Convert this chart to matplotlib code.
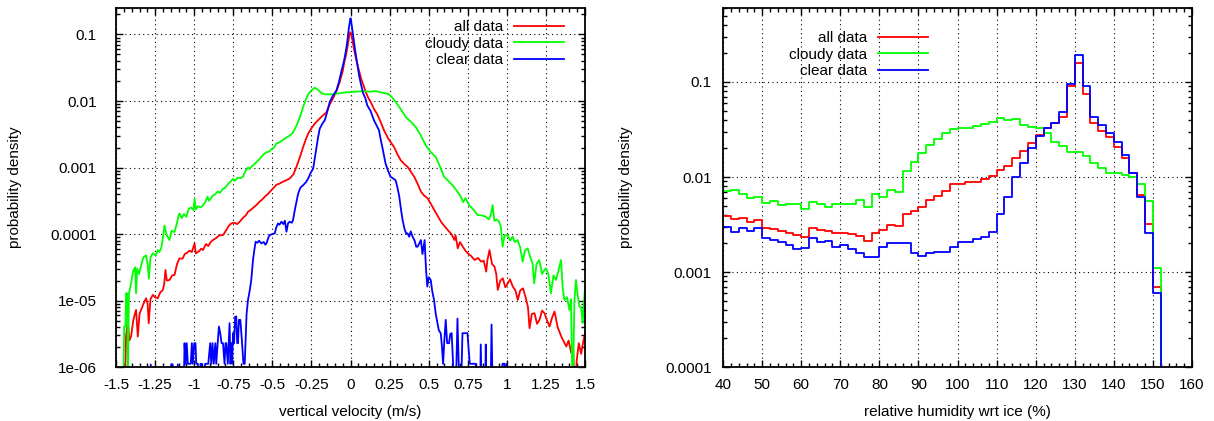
import numpy as np
import matplotlib
matplotlib.use("Agg")
import matplotlib.pyplot as plt
from matplotlib.ticker import MultipleLocator, LogLocator, NullFormatter

plt.rcParams['font.family'] = ['Liberation Sans', 'DejaVu Sans']

# ---- left panel: vertical velocity PDFs (log10 of density)
# -6.5 marks empty bins (below the axis)
all_v = [-1.445, -1.436, -1.425, -1.415, -1.404, -1.39, -1.38, -1.372, -1.361, -1.35, -1.34, -1.325, -1.308,
         -1.298, -1.291, -1.28, -1.265, -1.25, -1.233, -1.218, -1.201, -1.192, -1.184, -1.175, -1.158, -1.14,
         -1.126, -1.11, -1.094, -1.075, -1.06, -1.051, -1.03, -1.015, -0.998, -0.99, -0.97, -0.955, -0.944,
         -0.925, -0.91, -0.895, -0.88, -0.86, -0.84, -0.816, -0.8, -0.78, -0.763, -0.745, -0.725, -0.709,
         -0.69, -0.67, -0.656, -0.64, -0.62, -0.603, -0.585, -0.565, -0.549, -0.53, -0.506, -0.49, -0.475,
         -0.453, -0.43, -0.41, -0.389, -0.365, -0.346, -0.325, -0.303, -0.285, -0.271, -0.25, -0.229, -0.2,
         -0.175, -0.155, -0.133, -0.11, -0.09, -0.07, -0.05, -0.04, -0.03, -0.021, -0.011, -0.004, 0.0,
         0.004, 0.011, 0.021, 0.032, 0.043, 0.055, 0.07, 0.085, 0.1, 0.115, 0.128, 0.15, 0.171, 0.19, 0.214,
         0.24, 0.26, 0.278, 0.3, 0.321, 0.345, 0.365, 0.385, 0.408, 0.43, 0.451, 0.47, 0.494, 0.515, 0.536,
         0.558, 0.579, 0.6, 0.622, 0.645, 0.665, 0.672, 0.686, 0.7, 0.718, 0.735, 0.75, 0.772, 0.793, 0.815,
         0.836, 0.852, 0.868, 0.875, 0.889, 0.905, 0.921, 0.932, 0.942, 0.958, 0.974, 0.99, 1.006, 1.02,
         1.038, 1.055, 1.07, 1.085, 1.103, 1.12, 1.135, 1.145, 1.16, 1.177, 1.193, 1.209, 1.225, 1.241,
         1.257, 1.273, 1.29, 1.305, 1.325, 1.348, 1.365, 1.38, 1.395, 1.412, 1.425, 1.434, 1.447, 1.46,
         1.475, 1.49, 1.5]
all_logp = [-6.5, -5.54, -5.3, -5.6, -5.54, -5.3, -5.2, -5.14, -5.54, -5.2, -5.14, -5.05, -4.965,
            -5.05, -5.34, -4.98, -4.915, -4.95, -4.965, -4.88, -4.84, -4.75, -4.54, -4.7, -4.69, -4.62,
            -4.615, -4.45, -4.365, -4.37, -4.3, -4.29, -4.25, -4.27, -4.14, -4.29, -4.26, -4.22, -4.24,
            -4.15, -4.18, -4.12, -4.09, -4.06, -4.02, -4.015, -3.96, -3.88, -3.84, -3.83, -3.85, -3.815,
            -3.76, -3.72, -3.665, -3.64, -3.6, -3.565, -3.52, -3.48, -3.44, -3.4, -3.34, -3.3, -3.26,
            -3.24, -3.21, -3.19, -3.165, -3.1, -2.99, -2.85, -2.69, -2.57, -2.49, -2.41, -2.34, -2.27,
            -2.215, -2.17, -2.05, -1.95, -1.85, -1.72, -1.55, -1.42, -1.32, -1.21, -1.06, -0.98, -0.966,
            -0.99, -1.07, -1.21, -1.33, -1.44, -1.55, -1.68, -1.78, -1.88, -1.96, -2.01, -2.12, -2.2, -2.3,
            -2.44, -2.56, -2.63, -2.69, -2.8, -2.89, -2.95, -2.99, -3.06, -3.14, -3.25, -3.365, -3.42,
            -3.465, -3.55, -3.64, -3.73, -3.815, -3.88, -3.94, -4.0, -4.09, -4.02, -4.215, -4.12, -4.19,
            -4.25, -4.29, -4.33, -4.39, -4.36, -4.415, -4.4, -4.565, -4.4, -4.24, -4.45, -4.49, -4.6,
            -4.84, -4.7, -4.665, -4.8, -4.74, -4.68, -4.79, -4.85, -4.99, -4.85, -4.815, -4.95, -5.1,
            -5.415, -5.2, -5.19, -5.35, -5.29, -5.15, -5.19, -5.3, -5.39, -5.25, -5.165, -5.4, -5.54,
            -5.62, -5.69, -5.6, -5.79, -5.75, -6.5, -5.9, -5.64, -5.8, -5.6, -5.49]

cloudy_v = [-1.455, -1.448, -1.44, -1.436, -1.428, -1.424, -1.418, -1.404, -1.39, -1.378, -1.372, -1.365,
            -1.352, -1.34, -1.325, -1.308, -1.298, -1.29, -1.28, -1.265, -1.245, -1.232, -1.222, -1.21,
            -1.2, -1.19, -1.178, -1.168, -1.158, -1.145, -1.126, -1.112, -1.1, -1.094, -1.08, -1.065,
            -1.051, -1.035, -1.02, -1.005, -0.998, -0.99, -0.975, -0.96, -0.944, -0.93, -0.915, -0.905,
            -0.89, -0.88, -0.865, -0.85, -0.835, -0.816, -0.8, -0.785, -0.77, -0.752, -0.74, -0.72,
            -0.705, -0.688, -0.672, -0.656, -0.645, -0.63, -0.615, -0.603, -0.585, -0.57, -0.555, -0.538,
            -0.52, -0.505, -0.49, -0.475, -0.453, -0.43, -0.41, -0.389, -0.37, -0.346, -0.325, -0.303,
            -0.285, -0.271, -0.25, -0.229, -0.21, -0.186, -0.165, -0.15, -0.12, -0.09, -0.06, -0.03, 0.0,
            0.03, 0.064, 0.096, 0.13, 0.16, 0.182, 0.215, 0.246, 0.268, 0.289, 0.32, 0.353, 0.385, 0.417,
            0.45, 0.481, 0.51, 0.545, 0.575, 0.599, 0.625, 0.652, 0.68, 0.706, 0.72, 0.735, 0.759, 0.785,
            0.813, 0.84, 0.866, 0.885, 0.898, 0.909, 0.92, 0.935, 0.951, 0.962, 0.973, 0.985, 1.005,
            1.02, 1.037, 1.05, 1.069, 1.085, 1.101, 1.115, 1.133, 1.15, 1.165, 1.175, 1.19, 1.207,
            1.225, 1.238, 1.25, 1.265, 1.282, 1.298, 1.314, 1.33, 1.346, 1.357, 1.367, 1.385, 1.4,
            1.41, 1.421, 1.432, 1.442, 1.452, 1.464, 1.475, 1.485, 1.492, 1.5]
cloudy_logp = [-6.5, -5.39, -5.39, -4.89, -4.89, -6.2, -4.9, -4.74, -4.55, -4.5, -4.89, -4.52,
               -4.6, -4.47, -4.35, -4.32, -4.45, -4.67, -4.35, -4.29, -4.32, -4.24, -4.27, -4.2,
               -4.05, -3.87, -4.0, -4.05, -4.09, -3.95, -3.97, -3.85, -3.72, -3.69, -3.76, -3.7,
               -3.74, -3.62, -3.6, -3.64, -3.47, -3.63, -3.58, -3.6, -3.57, -3.52, -3.44, -3.5,
               -3.45, -3.42, -3.4, -3.36, -3.38, -3.32, -3.3, -3.25, -3.22, -3.17, -3.2, -3.15,
               -3.16, -3.14, -3.05, -3.0, -3.02, -2.98, -2.95, -2.92, -2.88, -2.84, -2.8, -2.77,
               -2.76, -2.72, -2.7, -2.64, -2.62, -2.58, -2.55, -2.52, -2.48, -2.37, -2.25, -2.09,
               -1.97, -1.9, -1.84, -1.8, -1.83, -1.88, -1.9, -1.9, -1.9, -1.89, -1.88, -1.87, -1.865,
               -1.86, -1.855, -1.855, -1.86, -1.85, -1.865, -1.88, -1.9, -1.95, -2.015, -2.12, -2.24,
               -2.31, -2.39, -2.52, -2.665, -2.76, -2.84, -3.0, -3.14, -3.2, -3.265, -3.35, -3.44,
               -3.52, -3.46, -3.565, -3.63, -3.715, -3.72, -3.74, -3.78, -3.7, -3.565, -3.8, -3.78,
               -3.815, -3.9, -4.19, -4.02, -4.015, -4.1, -4.04, -4.12, -4.09, -4.2, -4.415, -4.25,
               -4.215, -4.35, -4.45, -4.74, -4.45, -4.39, -4.6, -4.55, -4.515, -4.6, -4.89, -4.62,
               -4.69, -4.55, -4.39, -4.8, -4.99, -4.95, -5.14, -4.98, -6.5, -5.0, -4.69, -4.9,
               -5.09, -5.1, -5.34, -5.1, -4.79]

clear_v = [-1.285, -1.278, -1.272, -1.152, -1.147, -1.138, -1.132, -1.11, -1.105, -1.098, -1.068, -1.062,
           -1.055, -1.048, -1.041, -1.03, -1.022, -1.015, -1.009, -1.0, -0.992, -0.987, -0.977, -0.97,
           -0.96, -0.952, -0.944, -0.93, -0.91, -0.898, -0.891, -0.883, -0.875, -0.865, -0.859, -0.85,
           -0.842, -0.833, -0.825, -0.816, -0.806, -0.8, -0.795, -0.785, -0.774, -0.768, -0.763, -0.757,
           -0.752, -0.745, -0.738, -0.731, -0.725, -0.72, -0.714, -0.705, -0.695, -0.685, -0.677, -0.665,
           -0.656, -0.645, -0.635, -0.624, -0.613, -0.607, -0.595, -0.585, -0.571, -0.555, -0.545, -0.538,
           -0.525, -0.517, -0.5, -0.485, -0.475, -0.464, -0.455, -0.442, -0.43, -0.42, -0.41, -0.4,
           -0.389, -0.375, -0.368, -0.355, -0.335, -0.32, -0.303, -0.285, -0.271, -0.255, -0.239, -0.228,
           -0.218, -0.208, -0.197, -0.18, -0.165, -0.15, -0.133, -0.115, -0.09, -0.075, -0.058, -0.043,
           -0.03, -0.021, -0.011, -0.004, 0.0, 0.004, 0.011, 0.021, 0.032, 0.043, 0.055, 0.064, 0.08,
           0.095, 0.107, 0.128, 0.15, 0.165, 0.182, 0.193, 0.203, 0.214, 0.224, 0.24, 0.256, 0.27, 0.288,
           0.3, 0.312, 0.322, 0.333, 0.345, 0.355, 0.365, 0.375, 0.385, 0.397, 0.41, 0.42, 0.429, 0.44,
           0.45, 0.46, 0.474, 0.482, 0.491, 0.5, 0.513, 0.522, 0.534, 0.545, 0.556, 0.565, 0.577, 0.585,
           0.592, 0.6, 0.609, 0.618, 0.63, 0.638, 0.647, 0.655, 0.662, 0.672, 0.684, 0.692, 0.7, 0.705,
           0.716, 0.725, 0.74, 0.748, 0.756, 0.763, 0.775, 0.79, 0.801, 0.81, 0.828, 0.833, 0.84, 0.86,
           0.865, 0.87, 0.895, 0.902, 0.91, 0.965, 0.972, 0.985, 0.992, 0.998, 1.005, 1.5]
clear_logp = [-6.5, -5.96, -6.5, -6.5, -5.96, -5.96, -6.5, -6.5, -5.96, -6.5, -6.5, -5.64,
              -5.95, -5.64, -5.95, -5.95, -5.95, -5.64, -5.95, -5.64, -5.64, -5.95, -5.95, -6.5,
              -5.95, -5.95, -6.5, -5.95, -5.95, -5.64, -5.95, -5.64, -5.95, -5.64, -5.95, -5.64,
              -5.39, -5.5, -5.64, -5.64, -5.95, -5.64, -5.64, -5.95, -5.34, -5.95, -5.64, -5.95,
              -5.49, -5.64, -5.24, -5.24, -5.64, -5.64, -5.29, -5.29, -5.6, -5.95, -5.95, -5.2,
              -4.99, -4.85, -4.69, -4.39, -4.2, -4.115, -4.13, -4.1, -4.14, -4.12, -4.16, -4.14,
              -4.05, -4.015, -4.0, -3.99, -3.9, -3.84, -3.86, -3.815, -3.85, -3.8, -3.965, -3.84,
              -3.815, -3.83, -3.79, -3.62, -3.39, -3.3, -3.265, -3.22, -3.165, -3.08, -3.015, -2.85,
              -2.69, -2.55, -2.415, -2.34, -2.29, -2.17, -2.015, -1.93, -1.84, -1.72, -1.55, -1.41,
              -1.25, -1.11, -0.91, -0.8, -0.757, -0.8, -0.92, -1.1, -1.28, -1.44, -1.62, -1.72, -1.88,
              -1.96, -2.065, -2.15, -2.29, -2.36, -2.44, -2.58, -2.69, -2.82, -2.94, -3.05, -3.14, -3.16,
              -3.19, -3.3, -3.44, -3.62, -3.79, -3.92, -3.99, -3.99, -4.04, -3.96, -4.04, -4.1, -4.19,
              -4.19, -4.14, -4.09, -4.3, -4.09, -4.5, -4.79, -4.65, -4.69, -4.85, -4.99, -5.2, -5.34,
              -5.45, -5.49, -5.7, -5.95, -5.6, -5.29, -5.64, -5.64, -5.5, -5.49, -5.9, -6.5, -6.5,
              -5.27, -5.95, -6.5, -6.5, -5.49, -5.49, -5.49, -5.49, -5.75, -5.95, -5.95, -5.95, -5.95,
              -6.5, -6.5, -5.66, -6.5, -6.5, -5.66, -6.5, -6.5, -5.36, -6.5, -6.5, -5.95, -5.95, -6.5,
              -5.95, -6.5, -6.5]

vel_ticks = [-1.5, -1.25, -1, -0.75, -0.5, -0.25, 0, 0.25, 0.5, 0.75, 1, 1.25, 1.5]
vel_ticklabels = ["-1.5", "-1.25", "-1", "-0.75", "-0.5", "-0.25", "0", "0.25", "0.5", "0.75", "1", "1.25", "1.5"]
vel_yticks = [1e-6, 1e-5, 1e-4, 1e-3, 1e-2, 1e-1]
vel_yticklabels = ["1e-06", "1e-05", "0.0001", "0.001", "0.01", "0.1"]

# ---- right panel: RH wrt ice histograms, bins of 2 %, left edges from 38
rh_edges_start = 38
rh_bin = 2
all_rh_logp = [-2.365, -2.411, -2.439, -2.435, -2.47, -2.453, -2.54, -2.547, -2.565, -2.586, -2.61,
               -2.628, -2.533, -2.558, -2.565, -2.593, -2.586, -2.603, -2.621, -2.674, -2.593,
               -2.558, -2.505, -2.512, -2.393, -2.355, -2.312, -2.242, -2.2, -2.144, -2.074,
               -2.074, -2.049, -2.049, -2.025, -1.989, -1.926, -1.881, -1.803, -1.723, -1.639,
               -1.558, -1.488, -1.435, -1.365, -1.042, -0.803, -1.126, -1.428, -1.516, -1.576,
               -1.681, -1.803, -1.961, -2.189, -2.495, -3.161]
cloudy_rh_logp = [-2.05, -2.144, -2.137, -2.179, -2.224, -2.214, -2.27, -2.25, -2.295, -2.284, -2.284,
                  -2.34, -2.26, -2.284, -2.319, -2.284, -2.284, -2.284, -2.245, -2.319, -2.179,
                  -2.214, -2.137, -2.154, -1.934, -1.839, -1.751, -1.663, -1.604, -1.54, -1.49,
                  -1.488, -1.488, -1.463, -1.442, -1.418, -1.383, -1.4, -1.39, -1.453, -1.47,
                  -1.488, -1.54, -1.635, -1.67, -1.74, -1.74, -1.779, -1.856, -1.909, -1.955,
                  -1.961, -1.979, -1.997, -2.074, -2.249, -2.961]
clear_rh_logp = [-2.52, -2.523, -2.583, -2.54, -2.565, -2.54, -2.646, -2.663, -2.681, -2.716, -2.761,
                 -2.751, -2.646, -2.681, -2.67, -2.733, -2.72, -2.761, -2.797, -2.839, -2.839,
                 -2.733, -2.698, -2.698, -2.698, -2.804, -2.832, -2.804, -2.794, -2.794, -2.733,
                 -2.681, -2.681, -2.656, -2.628, -2.575, -2.393, -2.207, -1.997, -1.849, -1.698,
                 -1.568, -1.481, -1.428, -1.312, -1.021, -0.716, -1.042, -1.365, -1.453, -1.533,
                 -1.635, -1.768, -1.961, -2.214, -2.593, -3.224]
rh_ticks = [40, 50, 60, 70, 80, 90, 100, 110, 120, 130, 140, 150, 160]
rh_yticks = [1e-4, 1e-3, 1e-2, 1e-1]
rh_yticklabels = ["0.0001", "0.001", "0.01", "0.1"]

labels = ["all data", "cloudy data", "clear data"]
colors = ["#ff0000", "#00ff00", "#0000ff"]


def style_axes(ax, ypad):
    ax.set_yscale('log')
    ax.grid(True, which='major', linestyle=(0, (1, 3)), color='black', linewidth=0.8)
    ax.tick_params(which='both', direction='in', top=True, right=True, labelsize=11, width=1)
    ax.tick_params(which='major', length=5, pad=8)
    ax.tick_params(axis='y', which='major', pad=ypad)
    ax.tick_params(which='minor', length=3)
    ax.yaxis.set_minor_locator(LogLocator(base=10, subs=np.arange(2, 10)))
    ax.yaxis.set_minor_formatter(NullFormatter())
    for s in ax.spines.values():
        s.set_linewidth(1.3)
    ax.set_ylabel("probability density", fontsize=11)


fig = plt.figure(figsize=(12.14, 4.21), dpi=100)

ax1 = fig.add_axes([0.0956, 0.128, 0.3863, 0.853])
for v, lp, lab, col in zip([all_v, cloudy_v, clear_v], [all_logp, cloudy_logp, clear_logp], labels, colors):
    ax1.plot(v, 10 ** np.array(lp), color=col, lw=1.3, label=lab)
style_axes(ax1, 14)
ax1.set_xlim(-1.5, 1.5)
ax1.set_ylim(1e-6, 0.25)
ax1.set_xticks(vel_ticks)
ax1.set_xticklabels(vel_ticklabels)
ax1.set_yticks(vel_yticks)
ax1.set_yticklabels(vel_yticklabels)
ax1.xaxis.set_minor_locator(MultipleLocator(0.05))
ax1.set_xlabel("vertical velocity (m/s)", fontsize=11)
ax1.yaxis.set_label_coords(-0.2, 0.5)
ax1.xaxis.set_label_coords(0.5, -0.105)
ax1.legend(loc='upper right', bbox_to_anchor=(0.955, 0.967), frameon=False, markerfirst=False,
           fontsize=11, handlelength=3.3, handletextpad=0.7, labelspacing=0.18,
           borderpad=0, borderaxespad=0)

ax2 = fig.add_axes([0.5956, 0.128, 0.3863, 0.853])
for lp, lab, col in zip([all_rh_logp, cloudy_rh_logp, clear_rh_logp], labels, colors):
    n = len(lp)
    edges = rh_edges_start + rh_bin * np.arange(n + 1)
    vals = 10 ** np.array(lp)
    x = np.concatenate([edges, [edges[-1]]])
    y = np.concatenate([vals, [vals[-1]], [1e-6]])
    ax2.plot(x, y, drawstyle='steps-post', color=col, lw=1.3, label=lab)
style_axes(ax2, 8)
ax2.set_xlim(40, 160)
ax2.set_ylim(1e-4, 0.6)
ax2.set_xticks(rh_ticks)
ax2.set_yticks(rh_yticks)
ax2.set_yticklabels(rh_yticklabels)
ax2.xaxis.set_minor_locator(MultipleLocator(2))
ax2.set_xlabel("relative humidity wrt ice (%)", fontsize=11)
ax2.yaxis.set_label_coords(-0.193, 0.5)
ax2.xaxis.set_label_coords(0.5, -0.105)
ax2.legend(loc='upper right', bbox_to_anchor=(0.437, 0.936), frameon=False, markerfirst=False,
           fontsize=11, handlelength=3.3, handletextpad=0.7, labelspacing=0.18,
           borderpad=0, borderaxespad=0)

fig.savefig("out.png", dpi=100)
